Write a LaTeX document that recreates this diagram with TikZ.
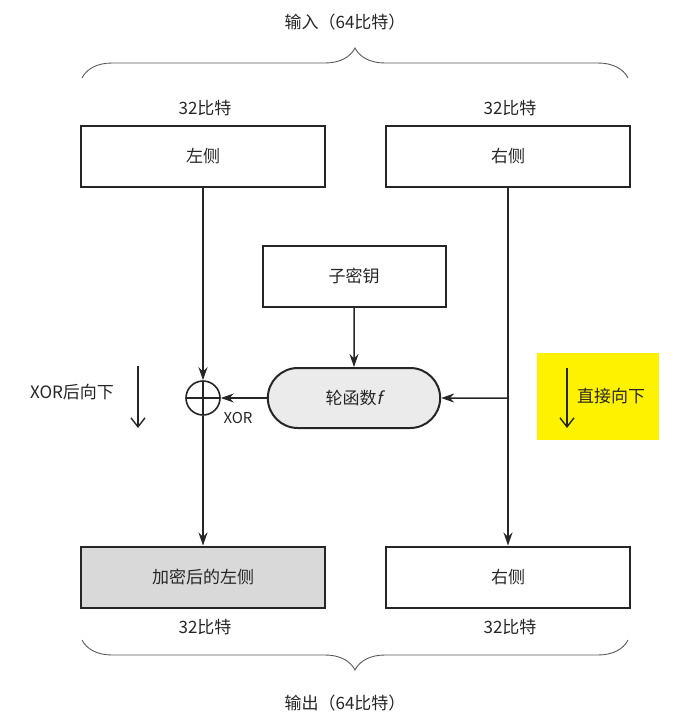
\documentclass[tikz,border=0pt]{standalone}
\usepackage{fontspec}
\setmainfont{Noto Sans CJK SC}
\newfontfamily\slantfont{Noto Sans CJK SC}[FakeSlant=0.2]
\usetikzlibrary{arrows.meta,shapes.misc,decorations.pathreplacing}

\begin{document}
\begin{tikzpicture}[
  x=1pt,y=-1pt,
  font=\fontsize{17}{20}\selectfont,
  every node/.style={align=center,text=black!85},
  block/.style={draw=black!85,line width=2pt,minimum width=244pt,minimum height=61pt,inner sep=0pt},
  roundf/.style={rounded rectangle,draw=black!85,line width=2pt,fill=black!8,minimum width=179pt,minimum height=60pt},
  xorsign/.style={circle,draw=black!85,line width=1.6pt,minimum size=34pt,inner sep=0pt,
    path picture={\draw[line width=1.6pt,black!85] (path picture bounding box.north) -- (path picture bounding box.south)
      (path picture bounding box.west) -- (path picture bounding box.east);}},
  flow/.style={-{Stealth[length=13pt,width=9pt]},line width=1.5pt,draw=black!85},
  hint/.style={-{Straight Barb[length=9pt,width=14pt]},line width=1.4pt,draw=black!85},
  bitbrace/.style={decorate,decoration={brace,amplitude=30pt},line width=0.9pt,draw=black!65}]

  \useasboundingbox (0,0) rectangle (697,723);

  % Input halves and subkey
  \node[block] (lin) at (203,156) {左侧};
  \node[block] (rin) at (508,156) {右侧};
  \node[block,minimum width=183pt] (subkey) at (354,276) {子密钥};
  \node (lbitsin) at (205,108) {32比特};
  \node (rbitsin) at (510,108) {32比特};

  % Round function and XOR
  \node[roundf] (func) at (354,398) {轮函数{\slantfont f}};
  \node[xorsign] (xor) at (203,398) {};
  \node[font=\fontsize{15}{17}\selectfont] (xorlbl) at (238,418) {XOR};

  % Output halves
  \node[block,fill=black!15] (lout) at (203,577) {加密后的左侧};
  \node[block] (rout) at (508,577) {右侧};
  \node (lbitsout) at (205,627) {32比特};
  \node (rbitsout) at (510,627) {32比特};

  % Hints
  \node (xordown) at (72,392) {XOR后向下};
  \coordinate (xdtop) at (138,366);
  \coordinate (xdbot) at (138,428);
  \node[fill=yellow,minimum width=122pt,minimum height=87pt] (yellowbox) at (598,396) {};
  \node (direct) at (611,396) {直接向下};
  \coordinate (dtop) at (567,368);
  \coordinate (dbot) at (567,428);
  \draw[hint] (xdtop) -- (xdbot);
  \draw[hint] (dtop) -- (dbot);

  % Braces
  \coordinate (bintl) at (82,78);
  \coordinate (bintr) at (628,78);
  \coordinate (boutl) at (82,640);
  \coordinate (boutr) at (628,640);
  \draw[bitbrace] (bintl) -- (bintr);
  \draw[bitbrace] (boutr) -- (boutl);
  \node (inlbl) at (345,22) {输入（64比特）};
  \node (outlbl) at (345,703) {输出（64比特）};

  % Connectors
  \coordinate (tap) at (rin.south |- func);
  \draw[flow] (lin) -- (xor);
  \draw[flow] (xor) -- (lout);
  \draw[flow] (rin) -- (rout);
  \draw[flow] (tap) -- (func);
  \draw[flow] (func) -- (xor);
  \draw[flow] (subkey) -- (func);

\end{tikzpicture}
\end{document}
